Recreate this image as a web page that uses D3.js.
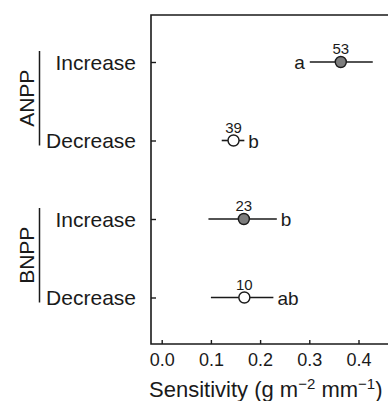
<!DOCTYPE html>
<html>
<head>
<meta charset="utf-8">
<script src="https://cdn.jsdelivr.net/npm/d3@7"></script>
<style>
  body { margin: 0; background: #fff; }
  svg { font-family: Arial, "Liberation Sans", sans-serif; }
</style>
</head>
<body>
<div id="chart"></div>
<script>
// values
const groups = ["ANPP", "ANPP", "BNPP", "BNPP"];
const directions = ["Increase", "Decrease", "Increase", "Decrease"];
const means = [0.364, 0.146, 0.167, 0.168];
const lower = [0.301, 0.122, 0.095, 0.100];
const upper = [0.429, 0.168, 0.234, 0.227];
const counts = ["53", "39", "23", "10"];
const letters = ["a", "b", "b", "ab"];
const xTicks = [0.0, 0.1, 0.2, 0.3, 0.4];

const width = 388, height = 401;
const frameLeft = 151, frameTop = 15, frameBottom = 344;

const svg = d3.select("#chart").append("svg")
  .attr("width", width).attr("height", height);

const x = d3.scaleLinear().domain([0, 0.4]).range([161.7, 358.5]);
const y = d3.scalePoint().domain(d3.range(4)).range([62, 297.5]);

const rows = means.map((m, i) => ({
  i: i, group: groups[i], dir: directions[i], mean: m,
  lo: lower[i], hi: upper[i], n: counts[i], letter: letters[i]
}));

// frame (right edge runs off the picture)
svg.append("path")
  .attr("d", `M${width + 5},${frameTop}H${frameLeft}V${frameBottom}H${width + 5}`)
  .attr("fill", "none").attr("stroke", "#1a1a1a").attr("stroke-width", 1.6);

// x axis, ticks pointing inward
const xAxis = svg.append("g")
  .attr("transform", `translate(0,${frameBottom})`)
  .call(d3.axisBottom(x).tickValues(xTicks).tickFormat(d3.format(".1f"))
    .tickSizeInner(-4).tickSizeOuter(0).tickPadding(9));
xAxis.select(".domain").remove();
xAxis.selectAll("line").attr("stroke", "#1a1a1a").attr("stroke-width", 1.4);
xAxis.selectAll("text").attr("font-size", 18).attr("fill", "#1a1a1a");

// y ticks
const yAxis = svg.append("g")
  .attr("transform", `translate(${frameLeft},0)`)
  .call(d3.axisLeft(y).tickSizeInner(-5).tickSizeOuter(0).tickFormat(""));
yAxis.select(".domain").remove();
yAxis.selectAll("line").attr("stroke", "#1a1a1a").attr("stroke-width", 1.4);

// category labels
svg.append("g").selectAll("text")
  .data(rows)
  .join("text")
  .attr("x", 136)
  .attr("y", d => y(d.i) + 7.5)
  .attr("text-anchor", "end")
  .attr("font-size", 21)
  .attr("fill", "#1a1a1a")
  .text(d => d.dir);

// group brackets
const groupNames = ["ANPP", "BNPP"];
groupNames.forEach(g => {
  const idx = rows.filter(r => r.group === g).map(r => r.i);
  const y0 = y(d3.min(idx)) - 11, y1 = y(d3.max(idx)) + 5;
  svg.append("line")
    .attr("x1", 39.5).attr("x2", 39.5).attr("y1", y0).attr("y2", y1)
    .attr("stroke", "#1a1a1a").attr("stroke-width", 1.5);
  svg.append("text")
    .attr("transform", `translate(33.5,${(y0 + y1) / 2}) rotate(-90)`)
    .attr("text-anchor", "middle")
    .attr("font-size", 21)
    .attr("fill", "#1a1a1a")
    .text(g);
});

// error bars
const marks = svg.append("g");
marks.selectAll("line.err")
  .data(rows)
  .join("line")
  .attr("class", "err")
  .attr("x1", d => x(d.lo)).attr("x2", d => x(d.hi))
  .attr("y1", d => y(d.i)).attr("y2", d => y(d.i))
  .attr("stroke", "#1a1a1a").attr("stroke-width", 1.6);

marks.selectAll("circle")
  .data(rows)
  .join("circle")
  .attr("cx", d => x(d.mean))
  .attr("cy", d => y(d.i))
  .attr("r", 5.5)
  .attr("fill", d => d.dir === "Increase" ? "#7d7d7d" : "#fff")
  .attr("stroke", "#1a1a1a").attr("stroke-width", 1.4);

// sample sizes
marks.selectAll("text.n")
  .data(rows)
  .join("text")
  .attr("class", "n")
  .attr("x", d => x(d.mean))
  .attr("y", d => y(d.i) - 8)
  .attr("text-anchor", "middle")
  .attr("font-size", 15)
  .attr("fill", "#1a1a1a")
  .text(d => d.n);

// significance letters ("a" sits left of its bar)
marks.selectAll("text.letter")
  .data(rows)
  .join("text")
  .attr("class", "letter")
  .attr("x", d => d.i === 0 ? x(d.lo) - 5 : x(d.hi) + 4)
  .attr("y", d => y(d.i) + 7)
  .attr("text-anchor", d => d.i === 0 ? "end" : "start")
  .attr("font-size", 19)
  .attr("fill", "#1a1a1a")
  .text(d => d.letter);

// axis title with superscripts
const title = svg.append("text")
  .attr("x", 149).attr("y", 397)
  .attr("font-size", 22)
  .attr("fill", "#1a1a1a");
title.append("tspan").text("Sensitivity (g m");
title.append("tspan").attr("dy", -8).attr("font-size", 15).text("\u22122");
title.append("tspan").attr("dy", 8).text(" mm");
title.append("tspan").attr("dy", -8).attr("font-size", 15).text("\u22121");
title.append("tspan").attr("dy", 8).text(")");
</script>
</body>
</html>
